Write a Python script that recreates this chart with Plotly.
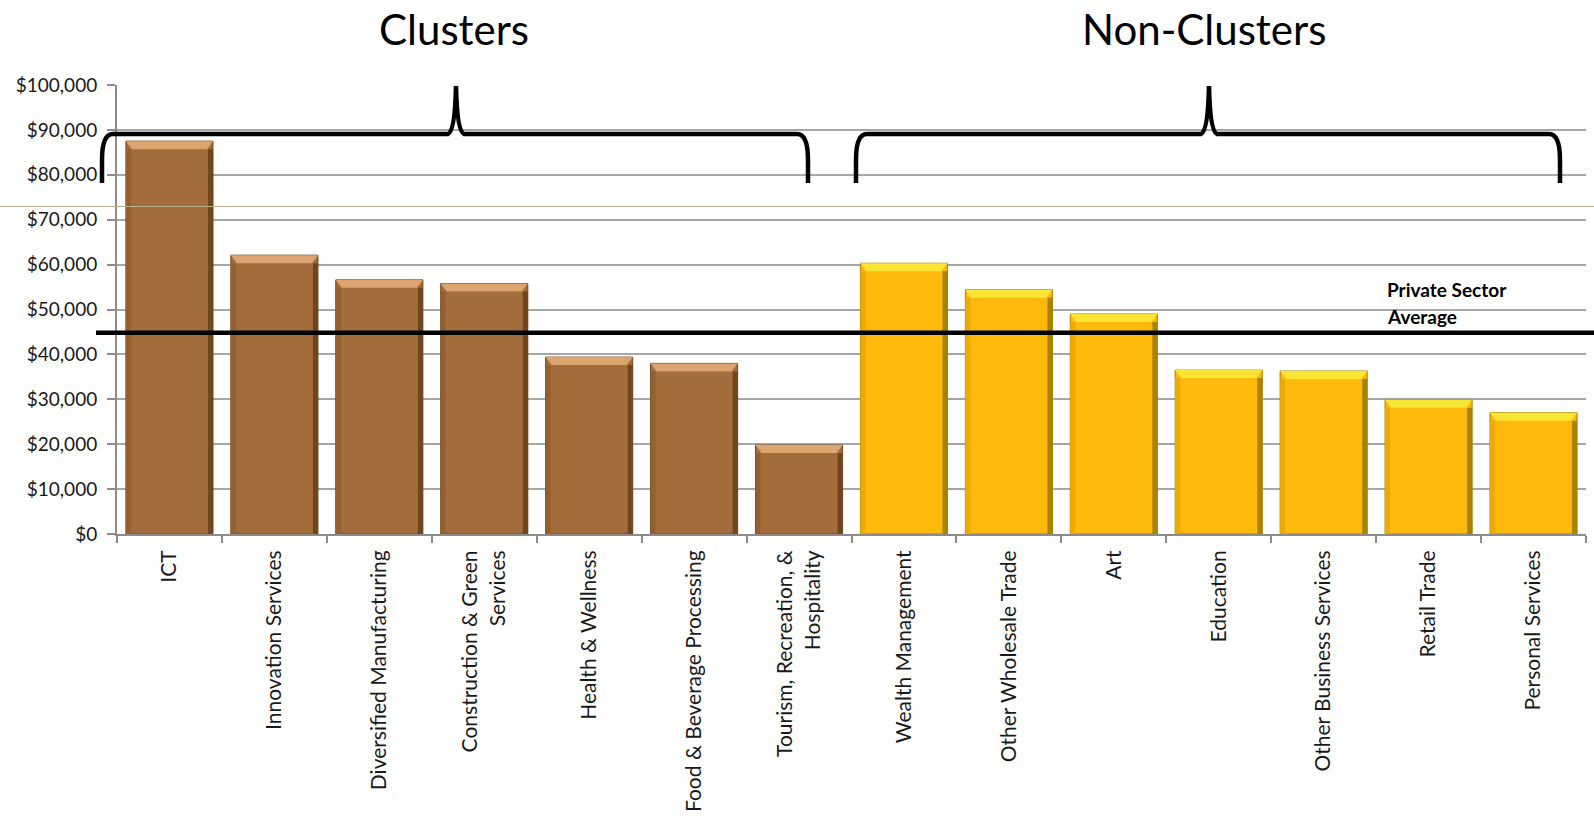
import plotly.graph_objects as go

# Average annual wage by industry group
cluster_names = [
    "ICT",
    "Innovation Services",
    "Diversified Manufacturing",
    "Construction & Green<br>Services",
    "Health & Wellness",
    "Food & Beverage Processing",
    "Tourism, Recreation, &<br>Hospitality",
]
cluster_wages = [87500, 62100, 56600, 55800, 39400, 38000, 19800]

noncluster_names = [
    "Wealth Management",
    "Other Wholesale Trade",
    "Art",
    "Education",
    "Other Business Services",
    "Retail Trade",
    "Personal Services",
]
noncluster_wages = [60300, 54400, 49000, 36500, 36300, 29900, 27000]

private_sector_average = 44800
y_ticks = list(range(0, 100001, 10000))
y_ticktext = [f"${v:,}" for v in y_ticks]

# palette: face, top bevel, right shade, left shade
BROWN = ("#A36D3B", "#DDA470", "#70461F", "#94602F")
GOLD = ("#FDB90C", "#F9E533", "#A98200", "#EDAA05")
FONT = "Lato"

W, H = 1594, 820
PLOT_L, PLOT_R, PLOT_T, PLOT_B = 117, 1586, 85, 534
Y_MAX = 100000
BARGAP = 0.17


def px(x):
    return (x - PLOT_L) / (PLOT_R - PLOT_L)


def py(y):
    return (PLOT_B - y) / (PLOT_B - PLOT_T)


def poly(points):
    return "M " + " L ".join(f"{px(a):.5f},{py(b):.5f}" for a, b in points) + " Z"


def brace_path(x0, x1, xtip, ybar, ytip, yend):
    pts = [
        ("M", [(x0, yend)]),
        ("L", [(x0, ybar + 26)]),
        ("Q", [(x0, ybar), (x0 + 11, ybar)]),
        ("L", [(xtip - 8, ybar)]),
        ("Q", [(xtip - 1, ybar - 3), (xtip, ytip)]),
        ("Q", [(xtip + 1, ybar - 3), (xtip + 8, ybar)]),
        ("L", [(x1 - 11, ybar)]),
        ("Q", [(x1, ybar), (x1, ybar + 26)]),
        ("L", [(x1, yend)]),
    ]
    out = []
    for cmd, coords in pts:
        out.append(cmd + " " + " ".join(f"{px(a):.5f},{py(b):.5f}" for a, b in coords))
    return " ".join(out)


categories = cluster_names + noncluster_names
wages = cluster_wages + noncluster_wages
palettes = [BROWN] * len(cluster_names) + [GOLD] * len(noncluster_names)

fig = go.Figure()
fig.add_bar(
    x=categories,
    y=wages,
    marker=dict(color=[p[0] for p in palettes],
                line=dict(color=[p[2] for p in palettes], width=1)),
    hovertemplate="%{x}: $%{y:,}<extra></extra>",
)

# bevelled look on each bar, sized from the bar's own value and slot
shapes = []
slot = (PLOT_R - PLOT_L) / len(categories)
bar_w = slot * (1 - BARGAP)
for i, (v, pal) in enumerate(zip(wages, palettes)):
    cx = PLOT_L + (i + 0.5) * slot
    left, right = cx - bar_w / 2, cx + bar_w / 2
    top = PLOT_B - v * (PLOT_B - PLOT_T) / Y_MAX
    bev = 8
    shapes.append(dict(type="path", xref="paper", yref="paper", layer="above",
                       path=poly([(left, top + bev), (left + 5, top + bev), (left + 5, PLOT_B), (left, PLOT_B)]),
                       fillcolor=pal[3], line=dict(width=0)))
    shapes.append(dict(type="path", xref="paper", yref="paper", layer="above",
                       path=poly([(right - 5, top + bev), (right, top + bev), (right, PLOT_B), (right - 5, PLOT_B)]),
                       fillcolor=pal[2], line=dict(width=0)))
    shapes.append(dict(type="path", xref="paper", yref="paper", layer="above",
                       path=poly([(left, top), (right, top), (right - 6, top + bev), (left + 6, top + bev)]),
                       fillcolor=pal[1], line=dict(width=0)))

shapes += [
    # thin reference rule across the page
    dict(type="line", xref="paper", yref="paper", x0=px(0), x1=px(W),
         y0=py(206.5), y1=py(206.5), line=dict(color="#BDAE90", width=1), layer="above"),
    # private sector average
    dict(type="line", xref="paper", yref="y", x0=px(96), x1=px(W),
         y0=private_sector_average, y1=private_sector_average,
         line=dict(color="black", width=4.5), layer="above"),
    # group braces
    dict(type="path", xref="paper", yref="paper",
         path=brace_path(102, 808, 456, 134, 86, 183),
         line=dict(color="black", width=4.5), layer="above"),
    dict(type="path", xref="paper", yref="paper",
         path=brace_path(856, 1560, 1209, 134, 86, 183),
         line=dict(color="black", width=4.5), layer="above"),
]

annotations = [
    dict(text="Clusters", xref="paper", yref="paper", x=px(453.5), y=py(28.5),
         showarrow=False, xanchor="center", yanchor="middle",
         font=dict(family=FONT, size=42, color="black")),
    dict(text="Non-Clusters", xref="paper", yref="paper", x=px(1204), y=py(28.5),
         showarrow=False, xanchor="center", yanchor="middle",
         font=dict(family=FONT, size=42, color="black")),
    dict(text="<b>Private Sector</b>", xref="paper", yref="paper", x=px(1385), y=py(289),
         showarrow=False, xanchor="left", yanchor="middle",
         font=dict(family=FONT, size=19, color="black")),
    dict(text="<b>Average</b>", xref="paper", yref="paper", x=px(1385), y=py(316),
         showarrow=False, xanchor="left", yanchor="middle",
         font=dict(family=FONT, size=19, color="black")),
]

fig.update_layout(
    width=W,
    height=H,
    margin=dict(l=PLOT_L, r=W - PLOT_R, t=PLOT_T, b=H - PLOT_B),
    paper_bgcolor="white",
    plot_bgcolor="white",
    showlegend=False,
    bargap=BARGAP,
    shapes=shapes,
    annotations=annotations,
    font=dict(family=FONT, color="#1a1a1a"),
)

fig.update_xaxes(
    type="category",
    tickson="boundaries",
    ticks="outside",
    ticklen=7,
    tickcolor="#8C8C8C",
    tickwidth=1.5,
    showline=True,
    linecolor="#8C8C8C",
    linewidth=2,
    showgrid=False,
    tickangle=-90,
    ticklabelstandoff=6,
    tickfont=dict(family=FONT, size=21, color="#1a1a1a"),
)

fig.update_yaxes(
    range=[0, Y_MAX],
    tickvals=y_ticks,
    ticktext=y_ticktext,
    ticks="outside",
    ticklen=8,
    tickcolor="#8C8C8C",
    tickwidth=1.5,
    showline=True,
    linecolor="#8C8C8C",
    linewidth=2,
    showgrid=True,
    gridcolor="#A6A6A6",
    gridwidth=1.5,
    zeroline=False,
    ticklabelstandoff=6,
    tickfont=dict(family=FONT, size=19, color="#1a1a1a"),
)

fig.write_html("out.html")
